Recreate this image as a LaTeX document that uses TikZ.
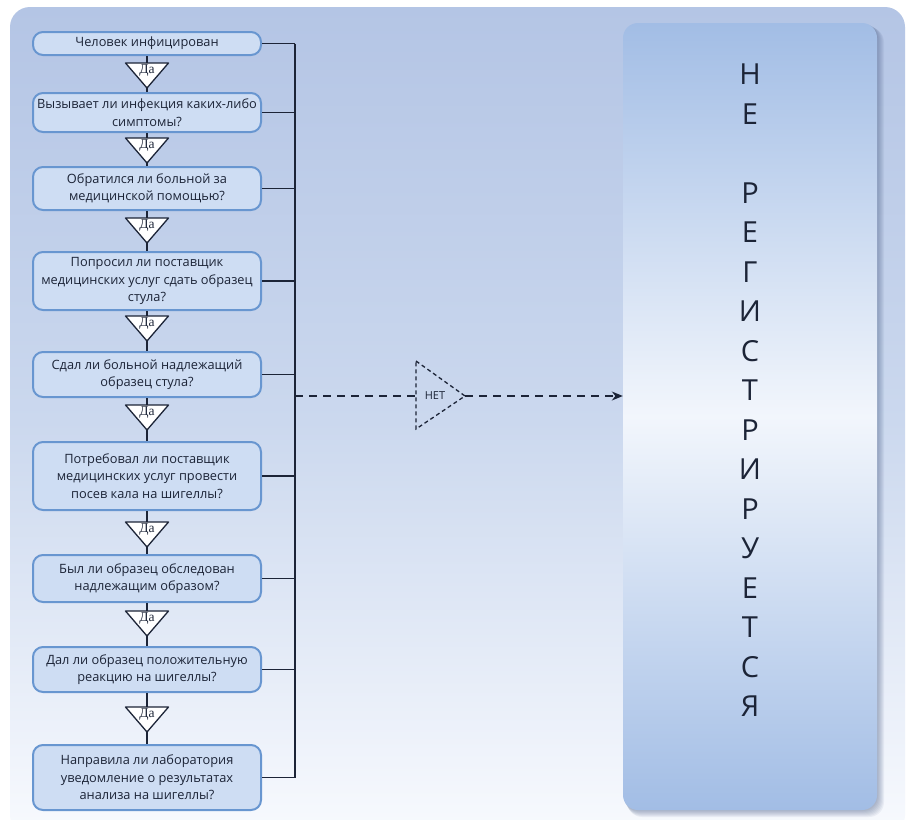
\documentclass[tikz,border=0pt]{standalone}
\usepackage{fontspec}
\setmainfont{Open Sans}
\newfontfamily\dafont{Liberation Serif}
\usetikzlibrary{arrows.meta}
\definecolor{bgtop}{RGB}{180,197,229}
\definecolor{bgmid}{RGB}{203,216,238}
\definecolor{bgbot}{RGB}{248,250,254}
\definecolor{boxfill}{RGB}{206,221,243}
\definecolor{boxedge}{RGB}{104,150,208}
\definecolor{ink}{RGB}{28,36,55}
\definecolor{paneltop}{RGB}{162,189,229}
\definecolor{panelmid}{RGB}{242,246,252}
\definecolor{panelbot}{RGB}{162,189,229}
\definecolor{shadowc}{RGB}{70,90,130}
\tikzset{
  qbox/.style={draw=boxedge, line width=2pt, fill=boxfill, rounded corners=10pt,
    minimum width=228pt, align=center, inner sep=1pt, text=ink,
    font=\fontsize{12.8}{17.5}\selectfont},
  conn/.style={draw=ink, line width=1.4pt},
  noline/.style={draw=ink, line width=1.4pt, dash pattern=on 8pt off 6pt},
  tri/.style={draw=ink, line width=1.3pt, fill=white, line join=round},
  datext/.style={font=\dafont\fontsize{13.5}{13.5}\selectfont, text=ink, inner sep=0pt},
  datri/.pic={
    \draw[tri] (-21.5,-12.5) -- (21.5,-12.5) -- (0,12.5) -- cycle;
    \node[datext] (-lbl) at (0,-4.5) {Да};
  },
  panel/.style={shade, top color=paneltop, bottom color=panelbot, middle color=panelmid,
    rounded corners=15pt, minimum width=254pt, inner sep=0pt},
  letters/.style={align=center, text=ink, font=\fontsize{29}{39.5}\selectfont, inner sep=0pt}
}
\begin{document}
\begin{tikzpicture}[x=1pt,y=-1pt]
\useasboundingbox (0,0) rectangle (912,819);
% background
\fill[white] (0,0) rectangle (912,819);
\path[shade, top color=bgtop, bottom color=bgbot, middle color=bgmid, rounded corners=20pt]
  (10,7) rectangle (905,835);
% panel soft shadow
\foreach \i in {1,...,7}
  \fill[shadowc, opacity=0.07, rounded corners=15pt] (623+\i*0.6,23+\i*0.6) rectangle (877+\i,810+\i);
% panel
\node[panel, minimum height=787pt] (reg) at (750,416.5) {};
\node[letters] (word) at (750,390.5) {Н\\Е\\[39.5pt]Р\\Е\\Г\\И\\С\\Т\\Р\\И\\Р\\У\\Е\\Т\\С\\Я};

% boxes
\node[qbox, minimum height=23pt] (b1) at (147,43.5) {Человек инфицирован};
\node[qbox, minimum height=39pt] (b2) at (147,112.5) {Вызывает ли инфекция каких-либо\\симптомы?};
\node[qbox, minimum height=43pt] (b3) at (147,188.5) {Обратился ли больной за\\медицинской помощью?};
\node[qbox, minimum height=58pt] (b4) at (147,281) {Попросил ли поставщик\\медицинских услуг сдать образец\\стула?};
\node[qbox, minimum height=45pt] (b5) at (147,374.5) {Сдал ли больной надлежащий\\образец стула?};
\node[qbox, minimum height=68pt] (b6) at (147,476) {Потребовал ли поставщик\\медицинских услуг провести\\посев кала на шигеллы?};
\node[qbox, minimum height=47pt] (b7) at (147,578.5) {Был ли образец обследован\\надлежащим образом?};
\node[qbox, minimum height=45pt] (b8) at (147,669.5) {Дал ли образец положительную\\реакцию на шигеллы?};
\node[qbox, minimum height=65pt] (b9) at (147,777.5) {Направила ли лаборатория\\уведомление о результатах\\анализа на шигеллы?};

% vertical flow lines
\foreach \a/\b in {b1/b2,b2/b3,b3/b4,b4/b5,b5/b6,b6/b7,b7/b8,b8/b9}
  \draw[conn] (\a.south) -- (\b.north);

% yes triangles
\pic (t1) at (147,75.5) {datri};
\pic (t2) at (147,150.5) {datri};
\pic (t3) at (147,230.5) {datri};
\pic (t4) at (147,328.5) {datri};
\pic (t5) at (147,417.5) {datri};
\pic (t6) at (147,534.5) {datri};
\pic (t7) at (147,623.5) {datri};
\pic (t8) at (147,719.5) {datri};

% bus
\coordinate (bus) at (295,0);
\draw[conn] (b1.east -| bus) -- (b9.east -| bus);
\foreach \n in {b1,b2,b3,b4,b5,b6,b7,b8,b9}
  \draw[conn] (\n.east) -- (\n.east -| bus);

% no branch
\coordinate (nofrom) at (295,396);
\coordinate (nl) at (416,396);
\coordinate (nr) at (465,396);
\draw[noline] (nofrom) -- (nl);
\draw[ink, line width=1.3pt, dash pattern=on 4pt off 3pt] (416,361) -- (nr) -- (416,429) -- cycle;
\node[text=ink, font=\fontsize{11}{11}\selectfont, inner sep=0pt] (net) at (435,396) {НЕТ};
\draw[noline, -{Stealth[length=11pt,width=9pt]}] (nr) -- (nr -| reg.west);
\end{tikzpicture}
\end{document}
